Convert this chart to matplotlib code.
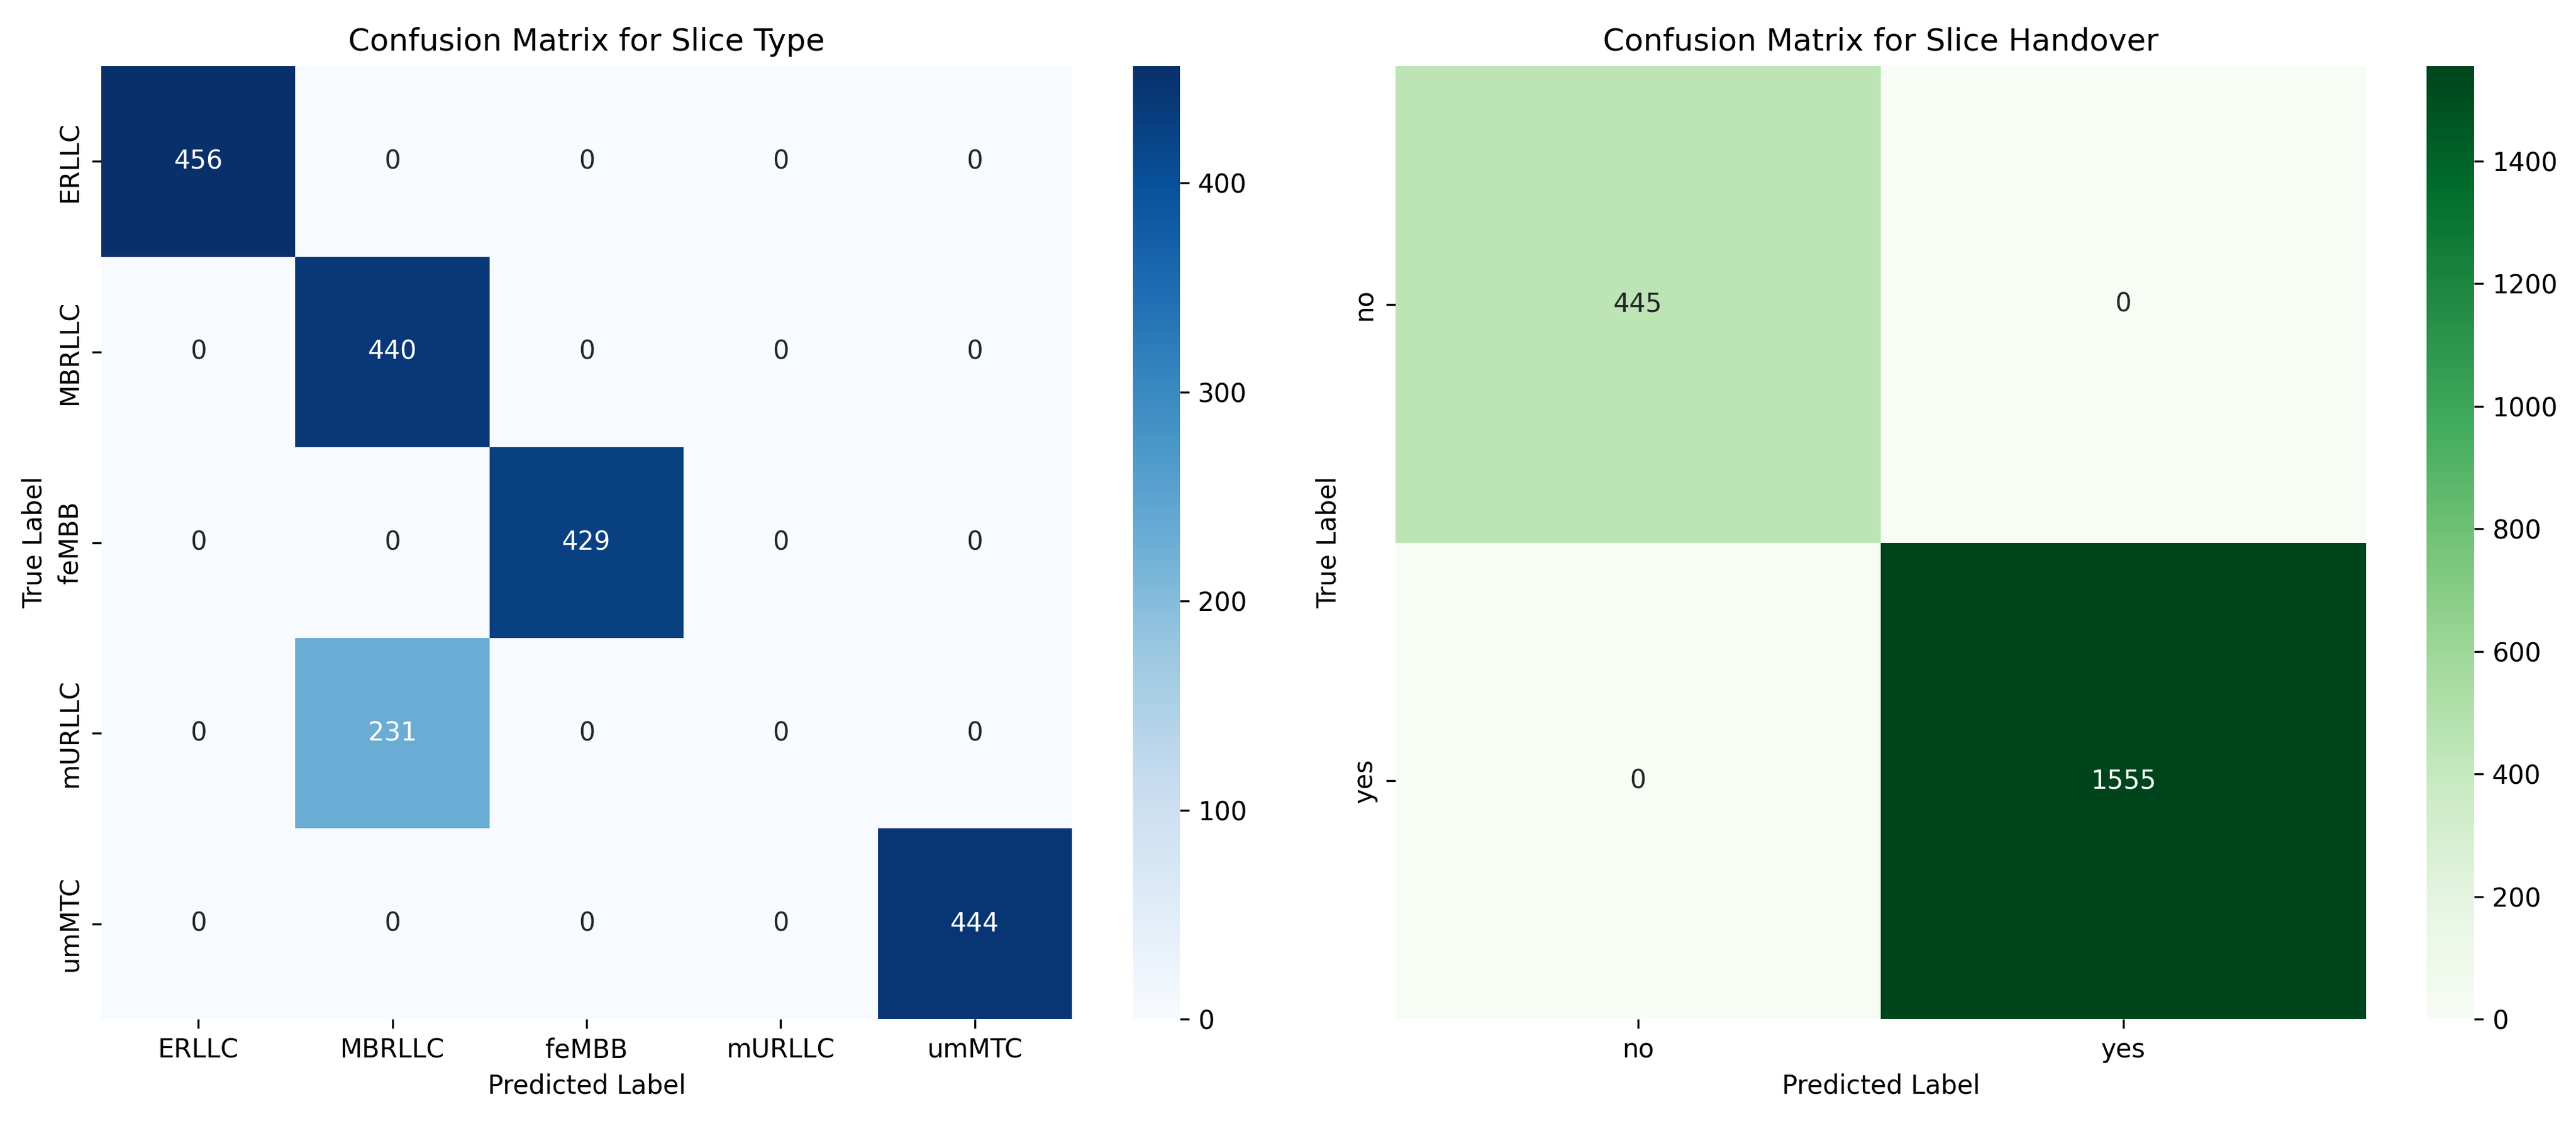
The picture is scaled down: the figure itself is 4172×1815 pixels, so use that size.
import numpy as np
import matplotlib
matplotlib.use("Agg")
import matplotlib.pyplot as plt
import seaborn as sns

# slice type confusion matrix
type_labels = ["ERLLC", "MBRLLC", "feMBB", "mURLLC", "umMTC"]
type_cm = np.array([
    [456, 0, 0, 0, 0],
    [0, 440, 0, 0, 0],
    [0, 0, 429, 0, 0],
    [0, 231, 0, 0, 0],
    [0, 0, 0, 0, 444],
])

# slice handover confusion matrix
handover_labels = ["no", "yes"]
handover_cm = np.array([
    [445, 0],
    [0, 1555],
])

W, H = 4172, 1815
fig = plt.figure(figsize=(W / 300, H / 300), dpi=300)

def frac(x0, x1, ytop, ybot):
    return [x0 / W, 1 - ybot / H, (x1 - x0) / W, (ybot - ytop) / H]

ax1 = fig.add_axes(frac(164, 1736, 107, 1650))
cax1 = fig.add_axes(frac(1835, 1911, 107, 1650))
ax2 = fig.add_axes(frac(2260, 3832, 107, 1650))
cax2 = fig.add_axes(frac(3930, 4007, 107, 1650))

sns.heatmap(type_cm, annot=True, fmt="d", cmap="Blues",
            xticklabels=type_labels, yticklabels=type_labels,
            ax=ax1, cbar_ax=cax1)
ax1.set_title("Confusion Matrix for Slice Type")
ax1.set_xlabel("Predicted Label")
ax1.set_ylabel("True Label")

sns.heatmap(handover_cm, annot=True, fmt="d", cmap="Greens",
            xticklabels=handover_labels, yticklabels=handover_labels,
            ax=ax2, cbar_ax=cax2)
ax2.set_title("Confusion Matrix for Slice Handover")
ax2.set_xlabel("Predicted Label")
ax2.set_ylabel("True Label")

fig.savefig("out.png", dpi=300)
